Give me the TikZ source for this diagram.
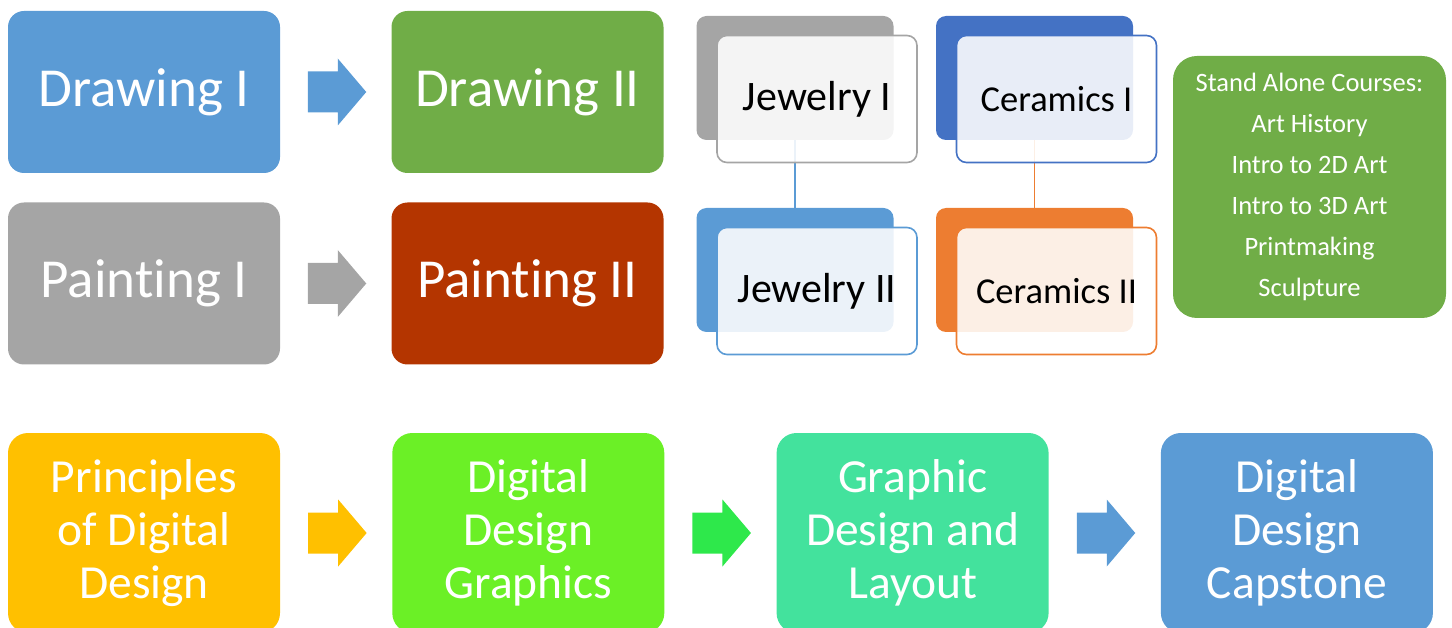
\documentclass[tikz,border=0pt]{standalone}
\usepackage{fontspec}
\setmainfont{Carlito}[RawFeature={-liga;-calt;-clig}]
\usetikzlibrary{positioning,calc}

\definecolor{blueA}{HTML}{5B9BD5}
\definecolor{greenA}{HTML}{70AD47}
\definecolor{grayA}{HTML}{A5A5A5}
\definecolor{rustA}{HTML}{B43500}
\definecolor{royalA}{HTML}{4472C4}
\definecolor{orangeA}{HTML}{ED7D31}
\definecolor{goldA}{HTML}{FFC000}
\definecolor{limeA}{HTML}{6BF026}
\definecolor{mintA}{HTML}{43E29D}
\definecolor{springA}{HTML}{2EE84B}

% block arrow half way between two boxes
\newcommand{\flowarrow}[3]{%
  \path ($(#1.east)!0.5!(#2.west)$) coordinate (#1-#2);
  \fill[#3] ($(#1-#2)+(-28,-20.5)$) -- ++(30,0) -- ++(0,-13) -- ++(28.5,33.5)
    -- ++(-28.5,33.5) -- ++(0,-13) -- ++(-30,0) -- cycle;}

\begin{document}
\begin{tikzpicture}[x=1pt,y=-1pt,on grid,
  course/.style={rounded corners=16pt,minimum width=272pt,minimum height=162pt,
    inner sep=0pt,text=white,align=center,font=\fontsize{55}{66}\selectfont},
  track/.style={course,minimum height=200pt,rounded corners=20pt,
    font=\fontsize{47.5}{53}\selectfont},
  backbox/.style={rounded corners=10pt,minimum width=197pt,minimum height=124pt,inner sep=0pt},
  frontbox/.style={rounded corners=10pt,minimum width=200pt,minimum height=127pt,inner sep=0pt,
    fill=white,fill opacity=0.88,text opacity=1,line width=1.6pt,text=black},
  link/.style={line width=1.8pt}]
\useasboundingbox (0,0) rectangle (1452,628);

% drawing and painting
\node[course,fill=blueA]  (draw1) at (144,92) {Drawing I};
\node[course,fill=greenA] (draw2) [right=383.5pt of draw1] {Drawing II};
\node[course,fill=grayA]  (paint1) [below=191.5pt of draw1] {Pain{}ting I};
\node[course,fill=rustA]  (paint2) [right=383.5pt of paint1] {Pain{}ting II};
\flowarrow{draw1}{draw2}{blueA}
\flowarrow{paint1}{paint2}{grayA}

% jewelry and ceramics
\node[backbox,fill=grayA]   (jew1b) at (795,78) {};
\node[backbox,fill=royalA]  (cer1b) [right=239.5pt of jew1b] {};
\node[backbox,fill=blueA]   (jew2b) [below=192pt of jew1b] {};
\node[backbox,fill=orangeA] (cer2b) [right=239.5pt of jew2b] {};
\draw[link,blueA] (jew1b.south) -- (jew2b.north);
\draw[link,orangeA] (cer1b.south) -- (cer2b.north);
\node[frontbox,draw=grayA,font=\fontsize{42}{50}\selectfont] (jew1) at ($(jew1b)+(22,21)$) {Jewelry I};
\node[frontbox,draw=royalA,font=\fontsize{36.5}{44}\selectfont] (cer1) at ($(cer1b)+(22,21)$) {Ceramics I};
\node[frontbox,draw=blueA,font=\fontsize{42}{50}\selectfont] (jew2) at ($(jew2b)+(22,21)$) {Jewelry II};
\node[frontbox,draw=orangeA,font=\fontsize{36.5}{44}\selectfont] (cer2) at ($(cer2b)+(22,21)$) {Ceramics II};

% stand alone courses
\node[fill=greenA,rounded corners=24pt,minimum width=273pt,minimum height=262pt,inner sep=0pt,
  text=white,align=center,font=\fontsize{26.5}{41}\selectfont] (alone) at (1309.5,187)
  {Stand Alone Courses:\\Art History\\Intro to 2D Art\\Intro to 3D Art\\Printmaking\\Sculpture};

% digital design track
\node[track,fill=goldA] (prin) at (144,533) {Principles\\of Digital\\Design};
\node[track,fill=limeA] (graph) [right=384.3pt of prin] {Digital\\Design\\Graphics};
\node[track,fill=mintA] (layout) [right=384.3pt of graph] {Graphic\\Design and\\Layout};
\node[track,fill=blueA] (cap) [right=384.3pt of layout] {Digital\\Design\\Capstone};
\flowarrow{prin}{graph}{goldA}
\flowarrow{graph}{layout}{springA}
\flowarrow{layout}{cap}{blueA}
\end{tikzpicture}
\end{document}
